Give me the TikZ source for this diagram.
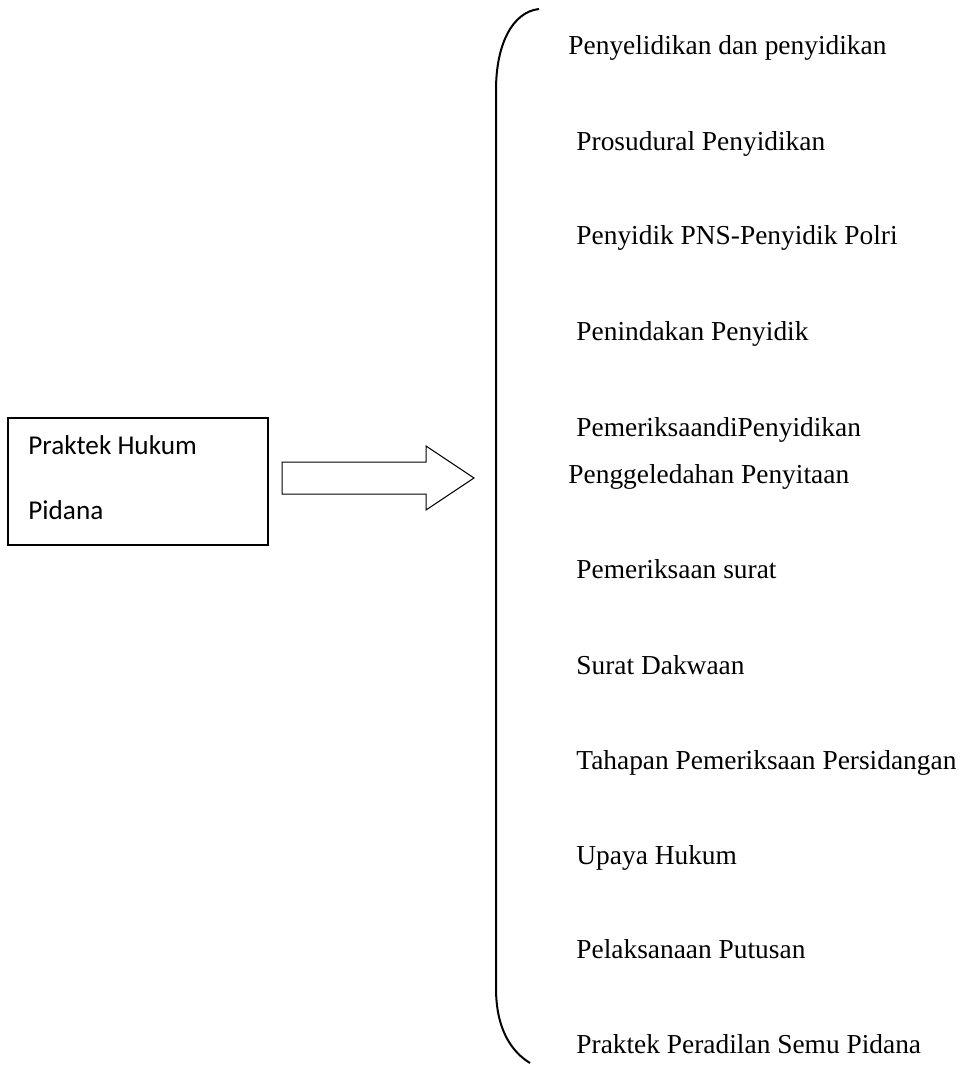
\documentclass[tikz,border=0pt]{standalone}
\usepackage{fontspec}
\setmainfont{Liberation Serif}
\newfontfamily\boxfont{Carlito}
\usetikzlibrary{positioning}

\begin{document}
\begin{tikzpicture}[x=0.5pt,y=-0.5pt]

\tikzset{box/.style = {shape=rectangle,draw,line width=0.65pt,minimum width=130pt,minimum height=63.5pt,inner sep=0pt}}
\tikzset{boxtext/.style = {font=\boxfont\fontsize{13.6}{16}\selectfont,inner sep=0pt,anchor=base west}}
\tikzset{item/.style = {font=\fontsize{13.7}{16}\selectfont,inner sep=0pt,anchor=base west}}
\tikzset{blockarrow/.style = {draw,line width=0.5pt,line join=miter}}
\tikzset{brace/.style = {draw,line width=1pt}}

\useasboundingbox (0,0) rectangle (964,1065);

%box
\node[box] (kotak) at (138,481.5) {};
\node[boxtext] (judul1) at (28,454) {Praktek Hukum};
\node[boxtext] (judul2) at (28,519) {Pidana};

%arrow
\draw[blockarrow] (282,462) -- (426,462) -- (426,446) -- (474,478)
  -- (426,510) -- (426,494) -- (282,494) -- cycle;

%brace
\draw[brace] (539,9) .. controls (512,12) and (496,45) .. (496,90)
  -- (496,988) .. controls (496,1030) and (512,1052) .. (530,1063);

%items
\node[item] (i1) at (568,55) {Penyelidikan dan penyidikan};
\node[item] (i2) at (576,150) {Prosudural Penyidikan};
\node[item] (i3) at (576,244) {Penyidik PNS-Penyidik Polri};
\node[item] (i4) at (576,340) {Penindakan Penyidik};
\node[item] (i5) at (576,436) {PemeriksaandiPenyidikan};
\node[item] (i6) at (568,483) {Penggeledahan Penyitaan};
\node[item] (i7) at (576,578) {Pemeriksaan surat};
\node[item] (i8) at (576,674) {Surat Dakwaan};
\node[item] (i9) at (576,769) {Tahapan Pemeriksaan Persidangan};
\node[item] (i10) at (576,864) {Upaya Hukum};
\node[item] (i11) at (576,958) {Pelaksanaan Putusan};
\node[item] (i12) at (576,1053) {Praktek Peradilan Semu Pidana};

\end{tikzpicture}
\end{document}
